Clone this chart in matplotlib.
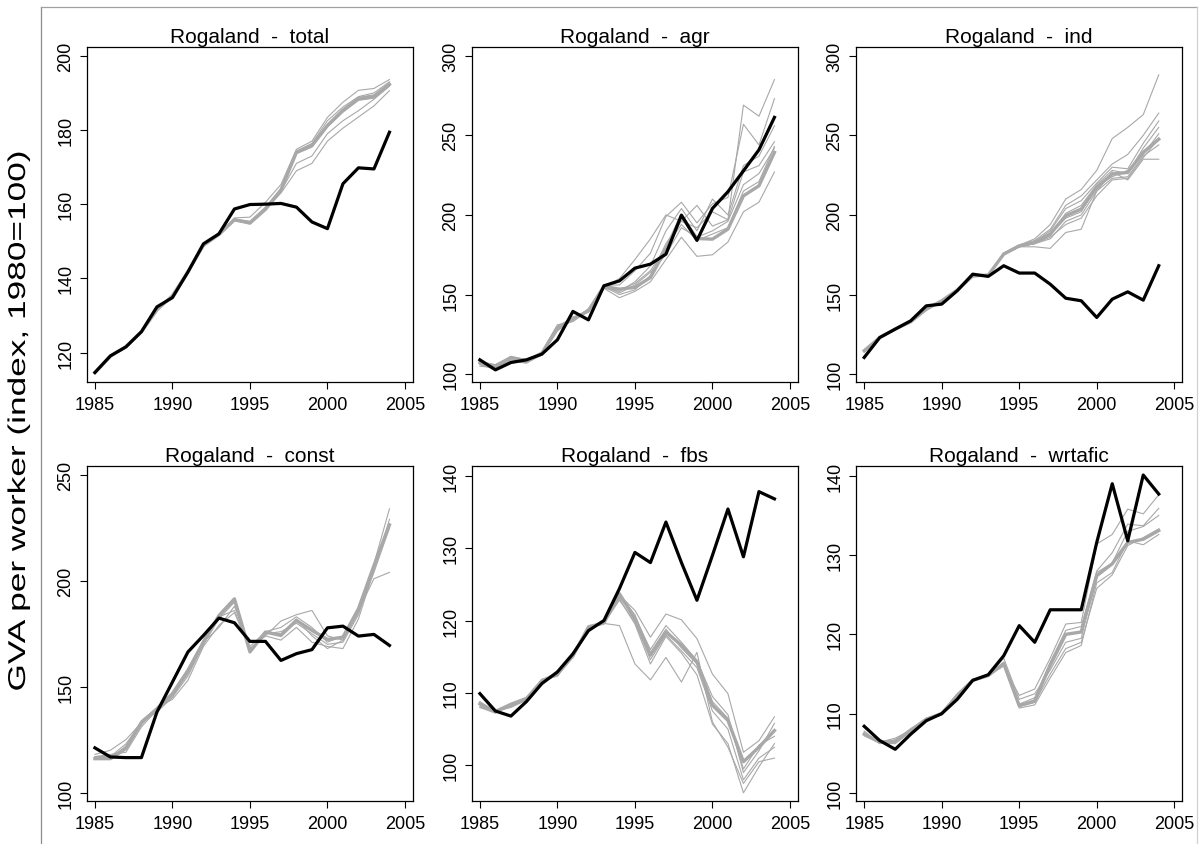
import numpy as np
import matplotlib
matplotlib.use("Agg")
import matplotlib.pyplot as plt
from matplotlib.lines import Line2D
from matplotlib.patheffects import AbstractPathEffect
from matplotlib.transforms import Affine2D

plt.rcParams['font.family'] = ['Liberation Sans', 'DejaVu Sans']


class Stretch(AbstractPathEffect):
    """Draw text stretched about its own centre (display space)."""

    def __init__(self, sx=1.0, sy=1.0):
        super().__init__()
        self.sx, self.sy = sx, sy

    def draw_path(self, renderer, gc, tpath, affine, rgbFace=None):
        ext = tpath.get_extents(affine)
        cx, cy = (ext.x0 + ext.x1) / 2, (ext.y0 + ext.y1) / 2
        t = affine + Affine2D().translate(-cx, -cy).scale(self.sx, self.sy).translate(cx, cy)
        renderer.draw_path(gc, tpath, t, rgbFace)


years = list(range(1985, 2005))
region = "Rogaland"
sectors = ["total", "agr", "ind", "const", "fbs", "wrtafic"]

# actual GVA per worker, by sector
actual_total = [114.6, 119.1, 121.5, 125.6, 132.3, 134.8, 141.7, 149.3, 152.0, 158.7,
                159.9, 160.0, 160.2, 159.2, 155.2, 153.4, 165.5, 169.8, 169.5, 179.4]
actual_agr = [109.0, 102.7, 107.3, 109.0, 112.6, 121.6, 139.4, 134.1, 155.5, 158.6,
              166.6, 169.1, 175.4, 199.9, 184.0, 204.1, 214.6, 227.7, 240.9, 261.3]
actual_ind = [110.5, 123.0, 128.3, 133.5, 142.9, 144.0, 152.4, 162.8, 161.4, 168.1,
              163.5, 163.5, 156.5, 147.7, 146.1, 135.6, 147.1, 151.7, 146.5, 168.1]
actual_const = [121.1, 116.8, 116.5, 116.5, 138.0, 152.2, 166.4, 174.2, 182.4, 180.2,
                171.4, 171.4, 162.4, 165.6, 167.5, 177.8, 178.6, 173.9, 174.7, 169.5]
actual_fbs = [109.9, 107.5, 106.8, 108.8, 111.3, 112.9, 115.4, 118.6, 120.0, 124.4,
              129.4, 128.0, 133.6, 128.0, 122.8, 129.0, 135.4, 128.8, 137.8, 136.8]
actual_wrtafic = [108.4, 106.6, 105.5, 107.4, 109.1, 110.0, 111.8, 114.2, 114.9, 117.3,
                  121.1, 119.0, 123.1, 123.1, 123.1, 131.6, 139.0, 131.8, 140.1, 137.7]

# synthetic control paths: first row is the main (thick) one, rest are alternatives
synth_total = [
    [114.6, 119.0, 121.6, 125.6, 131.5, 135.3, 141.8, 148.9, 151.8, 155.8,
     154.9, 158.6, 163.8, 174.0, 175.8, 181.2, 185.3, 188.4, 189.0, 192.3],
    [114.6, 119.0, 121.6, 125.7, 131.4, 135.4, 141.9, 149.0, 151.9, 156.3,
     156.5, 160.5, 165.3, 174.8, 177.0, 183.4, 187.5, 190.7, 191.2, 193.6],
    [114.5, 119.1, 121.5, 125.6, 131.6, 135.3, 141.7, 148.9, 151.8, 156.0,
     155.4, 159.2, 164.2, 174.3, 176.4, 182.5, 186.2, 189.0, 190.0, 193.0],
    [114.6, 119.0, 121.7, 125.5, 131.5, 135.2, 141.8, 148.8, 151.7, 155.6,
     155.0, 158.8, 163.5, 171.0, 173.0, 179.0, 182.5, 185.2, 188.3, 191.8],
    [114.7, 119.0, 121.6, 125.6, 131.4, 135.3, 141.9, 148.9, 151.8, 155.5,
     154.8, 158.5, 163.0, 169.0, 171.0, 177.0, 180.5, 183.5, 186.5, 190.6],
    [114.6, 119.1, 121.6, 125.6, 131.5, 135.4, 141.8, 149.0, 151.9, 155.8,
     155.2, 158.7, 163.8, 173.6, 175.4, 180.8, 184.8, 188.0, 188.6, 192.0],
    [114.6, 119.0, 121.5, 125.7, 131.5, 135.3, 141.7, 148.9, 151.8, 155.9,
     154.7, 158.4, 164.0, 174.1, 176.0, 181.5, 185.6, 188.8, 189.5, 192.6],
]
synth_agr = [
    [107.3, 105.2, 110.5, 108.4, 113.2, 129.3, 134.6, 139.8, 155.1, 153.4,
     154.5, 160.7, 178.5, 199.5, 185.2, 184.8, 191.1, 212.0, 218.3, 239.3],
    [105.0, 104.0, 109.0, 107.0, 112.0, 130.0, 135.0, 140.0, 155.0, 160.0,
     172.0, 185.0, 200.0, 196.0, 206.0, 193.0, 197.0, 269.0, 262.0, 285.0],
    [106.0, 103.0, 108.0, 108.0, 113.0, 128.0, 134.0, 141.0, 156.0, 156.0,
     165.0, 176.0, 199.0, 208.0, 195.0, 207.0, 211.0, 257.0, 244.0, 273.0],
    [108.0, 105.0, 111.0, 109.0, 112.0, 127.0, 135.0, 139.0, 154.0, 152.0,
     158.0, 168.0, 190.0, 204.0, 190.0, 210.0, 200.0, 231.0, 237.0, 256.0],
    [107.0, 106.0, 110.0, 108.0, 114.0, 131.0, 133.0, 140.0, 155.0, 150.0,
     153.0, 162.0, 182.0, 196.0, 192.0, 202.0, 197.0, 227.0, 231.0, 246.0],
    [106.0, 104.0, 108.0, 107.0, 113.0, 129.0, 136.0, 139.0, 156.0, 151.0,
     156.0, 164.0, 175.0, 192.0, 186.0, 190.0, 196.0, 219.0, 226.0, 242.0],
    [107.0, 105.0, 110.0, 109.0, 112.0, 128.0, 134.0, 141.0, 154.0, 148.0,
     152.0, 158.0, 172.0, 186.0, 174.0, 175.0, 183.0, 202.0, 208.0, 227.0],
    [108.0, 104.0, 109.0, 108.0, 113.0, 130.0, 135.0, 140.0, 155.0, 153.0,
     157.0, 165.0, 180.0, 194.0, 184.0, 188.0, 192.0, 215.0, 221.0, 243.0],
]
synth_ind = [
    [114.7, 123.0, 128.3, 132.9, 140.8, 146.1, 152.8, 161.8, 162.2, 175.4,
     180.6, 182.7, 188.0, 199.5, 203.7, 217.3, 225.7, 226.7, 239.3, 247.6],
    [114.0, 123.0, 128.0, 133.0, 141.0, 146.0, 153.0, 162.0, 162.0, 176.0,
     181.0, 185.0, 194.0, 210.0, 216.0, 228.0, 248.0, 255.0, 263.0, 288.0],
    [114.2, 123.1, 128.1, 133.1, 141.0, 146.2, 153.0, 162.1, 162.0, 176.0,
     181.0, 184.0, 191.0, 206.0, 212.0, 222.0, 232.0, 238.0, 250.0, 264.0],
    [114.5, 122.9, 128.2, 133.0, 140.9, 146.0, 152.9, 162.0, 162.1, 176.0,
     180.0, 183.0, 190.0, 204.0, 209.0, 220.0, 230.0, 229.0, 245.0, 259.0],
    [114.3, 123.0, 128.0, 133.2, 141.1, 146.1, 153.1, 161.9, 162.0, 175.0,
     180.0, 182.0, 187.0, 201.0, 206.0, 219.0, 228.0, 226.0, 242.0, 255.0],
    [114.6, 123.2, 128.3, 133.0, 141.0, 146.0, 153.0, 162.0, 162.2, 175.0,
     180.0, 182.0, 185.0, 196.0, 200.0, 215.0, 223.0, 224.0, 237.0, 244.0],
    [114.4, 123.0, 128.1, 133.1, 141.0, 146.1, 153.0, 162.0, 162.0, 175.0,
     180.0, 180.0, 179.0, 189.0, 191.0, 215.0, 227.0, 222.0, 235.0, 235.0],
    [115.0, 123.0, 128.0, 133.0, 140.0, 146.0, 152.0, 161.0, 162.0, 175.0,
     180.0, 183.0, 188.0, 198.0, 202.0, 218.0, 224.0, 228.0, 238.0, 251.0],
    [114.2, 123.1, 128.2, 133.0, 141.0, 146.2, 153.0, 162.0, 162.1, 176.0,
     181.0, 182.0, 186.0, 194.0, 198.0, 212.0, 222.0, 223.0, 236.0, 248.0],
]
synth_const = [
    [116.0, 116.0, 120.8, 133.0, 139.6, 146.7, 157.7, 171.1, 183.6, 191.5,
     166.4, 175.8, 174.2, 181.3, 176.6, 172.3, 173.4, 186.8, 207.2, 226.4],
    [118.0, 120.0, 125.0, 133.0, 139.0, 145.0, 155.0, 170.0, 183.0, 186.0,
     168.0, 174.0, 181.0, 184.0, 186.0, 174.0, 172.0, 186.0, 201.0, 204.0],
    [117.0, 117.0, 121.0, 132.0, 140.0, 147.0, 158.0, 172.0, 184.0, 190.0,
     167.0, 176.0, 178.0, 183.0, 178.0, 171.0, 174.0, 187.0, 208.0, 234.0],
    [116.0, 116.0, 122.0, 134.0, 140.0, 144.0, 153.0, 169.0, 179.0, 185.0,
     168.0, 174.0, 172.0, 178.0, 171.0, 169.0, 168.0, 182.0, 205.0, 229.0],
    [117.0, 118.0, 119.0, 131.0, 139.0, 146.0, 156.0, 170.0, 182.0, 190.0,
     167.0, 175.0, 176.0, 180.0, 175.0, 170.0, 171.0, 184.0, 206.0, 227.0],
    [116.0, 117.0, 123.0, 133.0, 138.0, 145.0, 157.0, 171.0, 178.0, 188.0,
     169.0, 176.0, 175.0, 182.0, 174.0, 168.0, 172.0, 185.0, 204.0, 225.0],
]
synth_fbs = [
    [108.5, 107.4, 108.3, 109.2, 111.7, 112.6, 115.1, 119.1, 119.7, 123.7,
     120.2, 115.2, 118.4, 116.6, 114.3, 108.3, 106.2, 100.5, 102.5, 104.8],
    [108.0, 107.5, 108.0, 109.0, 111.5, 112.5, 115.0, 119.0, 119.8, 123.5,
     121.4, 117.7, 120.9, 120.1, 117.5, 112.6, 109.9, 101.8, 103.4, 106.7],
    [108.2, 107.3, 108.4, 109.1, 111.8, 112.3, 115.2, 119.3, 119.6, 119.3,
     114.0, 111.8, 114.9, 111.5, 115.6, 106.0, 102.5, 97.5, 100.5, 101.0],
    [108.6, 107.6, 108.1, 109.3, 111.6, 112.7, 114.9, 119.0, 119.5, 123.0,
     119.5, 114.0, 117.8, 115.5, 112.5, 105.7, 103.0, 96.2, 99.8, 103.0],
    [108.0, 107.2, 108.5, 109.0, 111.9, 112.4, 115.3, 118.9, 119.8, 123.2,
     120.5, 116.0, 119.3, 117.0, 114.5, 109.5, 107.0, 99.0, 102.0, 105.8],
    [108.8, 107.4, 108.2, 109.2, 111.7, 112.8, 115.0, 119.2, 119.7, 122.8,
     119.8, 114.6, 118.0, 115.8, 113.5, 107.5, 105.0, 98.0, 101.0, 102.5],
    [108.3, 107.6, 108.6, 109.4, 111.5, 112.5, 115.1, 119.1, 119.6, 123.6,
     120.8, 115.6, 118.8, 116.2, 114.0, 108.8, 106.5, 99.5, 102.8, 104.0],
]
synth_wrtafic = [
    [107.4, 106.4, 106.5, 107.9, 109.3, 110.0, 112.3, 114.2, 114.8, 116.3,
     111.0, 111.6, 116.1, 120.0, 120.3, 127.4, 128.9, 131.6, 132.0, 133.1],
    [107.6, 106.3, 106.7, 108.0, 109.2, 109.9, 112.4, 114.3, 114.8, 116.0,
     112.3, 113.1, 117.0, 121.3, 121.5, 131.4, 132.6, 135.8, 135.2, 137.6],
    [107.3, 106.5, 106.4, 107.8, 109.4, 110.1, 112.2, 114.1, 114.9, 116.5,
     111.2, 112.0, 116.5, 120.5, 121.0, 128.0, 130.3, 133.9, 133.7, 135.9],
    [107.8, 106.2, 106.6, 108.1, 109.3, 109.8, 112.3, 114.2, 114.7, 116.2,
     110.7, 111.1, 114.5, 117.7, 118.6, 126.5, 127.8, 131.8, 131.3, 132.6],
    [107.5, 106.4, 106.9, 107.9, 109.1, 110.0, 112.5, 114.3, 114.8, 117.0,
     111.8, 112.5, 115.5, 119.0, 119.5, 127.8, 129.0, 133.0, 133.6, 135.0],
    [107.2, 106.3, 106.2, 107.7, 109.2, 109.9, 112.1, 114.2, 114.9, 116.1,
     110.9, 111.4, 115.0, 118.2, 119.0, 125.8, 127.5, 131.2, 132.2, 133.3],
]

actuals = [actual_total, actual_agr, actual_ind, actual_const, actual_fbs, actual_wrtafic]
synths = [synth_total, synth_agr, synth_ind, synth_const, synth_fbs, synth_wrtafic]
ylims = [(112.1, 202.3), (95.2, 305.3), (95.2, 305.3),
         (96.1, 254.1), (95.1, 141.3), (99.0, 141.2)]
yticks = [range(120, 201, 20), range(100, 301, 50), range(100, 301, 50),
          range(100, 251, 50), range(100, 141, 10), range(100, 141, 10)]

W, H = 1202, 845
fig = plt.figure(figsize=(W / 100, H / 100), dpi=100)

# panel boxes in pixels (left, top, width, height)
col_left = [86.7, 471.7, 856.0]
row_top = [48.3, 467.3]
pw, ph = 326.0, 334.5

grey = "#a8a8a8"
for i in range(6):
    r, c = divmod(i, 3)
    l, t = col_left[c], row_top[r]
    ax = fig.add_axes([l / W, 1 - (t + ph) / H, pw / W, ph / H])
    syn = synths[i]
    for s in syn[1:]:
        ax.plot(years, s, color=grey, lw=0.8, zorder=2)
    ax.plot(years, syn[0], color=grey, lw=2.4, zorder=3)
    ax.plot(years, actuals[i], color="black", lw=2.3, zorder=4)

    ax.set_xlim(1984.47, 2005.5)
    ax.set_ylim(*ylims[i])
    ax.set_xticks(range(1985, 2006, 5))
    ax.set_yticks(list(yticks[i]))
    ax.tick_params(direction="out", length=5, width=0.8, labelsize=13, pad=4)
    ax.tick_params(axis="x", pad=5)
    for lab in ax.get_yticklabels():
        lab.set_rotation(90)
        lab.set_va("center")
    for sp in ax.spines.values():
        sp.set_linewidth(0.9)
    ax.set_title(f"{region}  -  {sectors[i]}", fontsize=15, pad=4)

fig.text(19 / W, 0.5, "GVA per worker (index, 1980=100)", rotation=90,
         ha="center", va="center", fontsize=17.5,
         path_effects=[Stretch(1.0, 1.45)])

# thin frame around the plotting region
fig.add_artist(Line2D([41.3 / W, 41.3 / W], [0, 1 - 8.3 / H], color="#8c8c8c", lw=0.9))
fig.add_artist(Line2D([41.3 / W, 1197.3 / W], [1 - 8.3 / H, 1 - 8.3 / H], color="#a0a0a0", lw=0.9))
fig.add_artist(Line2D([1197.3 / W, 1197.3 / W], [0, 1 - 8.3 / H], color="#d0d0d0", lw=0.9))

fig.savefig("out.png", dpi=100)
